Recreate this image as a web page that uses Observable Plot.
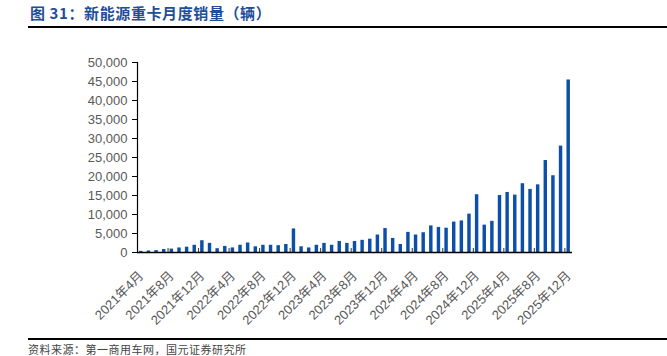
<!DOCTYPE html>
<html><head><meta charset="utf-8">
<script src="https://cdn.jsdelivr.net/npm/d3@7"></script>
<script src="https://cdn.jsdelivr.net/npm/@observablehq/plot@0.6"></script>
<style>
html,body{margin:0;padding:0;background:#fff;width:667px;height:356px;overflow:hidden;}
body{position:relative;font-family:"Liberation Sans","Noto Sans CJK SC",sans-serif;}
#title{position:absolute;left:30px;top:3px;font-size:15px;font-weight:bold;color:#1f4e99;letter-spacing:0.6px;font-family:"Noto Sans CJK SC",sans-serif;white-space:nowrap;line-height:20px;}
#tline{position:absolute;left:28px;top:26px;width:639px;height:2px;background:#000;}
#bline{position:absolute;left:28px;top:338px;width:639px;height:2px;background:#000;}
#source{position:absolute;left:28px;top:344px;font-size:11px;color:#444;letter-spacing:0.5px;font-family:"Noto Sans CJK SC",sans-serif;white-space:nowrap;line-height:11px;}
#chart{position:absolute;left:0;top:0;}
</style>
</head><body>
<div id="chart"></div>
<div id="title">图 31：新能源重卡月度销量（辆）</div>
<div id="tline"></div>
<div id="bline"></div>
<div id="source">资料来源：第一商用车网，国元证券研究所</div>
<script>
const months = [
  "2021年4月","2021年5月","2021年6月","2021年7月","2021年8月","2021年9月","2021年10月","2021年11月","2021年12月",
  "2022年1月","2022年2月","2022年3月","2022年4月","2022年5月","2022年6月","2022年7月","2022年8月","2022年9月","2022年10月","2022年11月","2022年12月",
  "2023年1月","2023年2月","2023年3月","2023年4月","2023年5月","2023年6月","2023年7月","2023年8月","2023年9月","2023年10月","2023年11月","2023年12月",
  "2024年1月","2024年2月","2024年3月","2024年4月","2024年5月","2024年6月","2024年7月","2024年8月","2024年9月","2024年10月","2024年11月","2024年12月",
  "2025年1月","2025年2月","2025年3月","2025年4月","2025年5月","2025年6月","2025年7月","2025年8月","2025年9月","2025年10月","2025年11月","2025年12月"
];
const sales = [
  300,400,500,800,900,1200,1400,1900,3100,
  2400,1000,1600,1200,1900,2500,1500,1900,1900,1800,2100,6200,
  1500,1200,1900,2400,1900,2900,2400,2900,3200,3500,4600,6300,
  3700,2100,5300,4600,5200,7000,6600,6400,8000,8300,10100,15200,
  7200,8200,15000,15800,15100,18100,16600,17800,24200,20200,28000,45400
];
const xTickLabels = ["2021年4月","2021年8月","2021年12月","2022年4月","2022年8月","2022年12月","2023年4月","2023年8月","2023年12月","2024年4月","2024年8月","2024年12月","2025年4月","2025年8月","2025年12月"];
const yTicks = [0,5000,10000,15000,20000,25000,30000,35000,40000,45000,50000];

const data = months.map((m, i) => ({month: m, sales: sales[i]}));
const fontFam = '"Liberation Sans","Noto Sans CJK SC",sans-serif';

const chart = Plot.plot({
  width: 667, height: 356,
  marginTop: 62, marginBottom: 104, marginLeft: 137, marginRight: 95,
  style: {fontFamily: fontFam, fontSize: "13px", background: "transparent", overflow: "visible"},
  x: {type: "band", domain: months, paddingInner: 0.55, paddingOuter: 0.275, label: null},
  y: {domain: [0, 50000], label: null},
  marks: [
    Plot.barY(data, {x: "month", y: "sales", fill: "#0b4fa6"}),
    Plot.axisX({ticks: xTickLabels, tickSize: -4, tickFormat: () => "", dx: -3.8, stroke: "#333", label: null}),
    Plot.ruleY([0], {stroke: "#000", strokeWidth: 1.5}),
    Plot.frame({anchor: "left", stroke: "#000", strokeWidth: 1.2}),
    Plot.axisY({ticks: yTicks, tickFormat: d3.format(","), tickSize: 5, tickPadding: 5, fontSize: 13, stroke: "#000", fill: "#595959", label: null}),
    Plot.axisX({ticks: xTickLabels, tickRotate: -45, tickSize: 0, tickPadding: 21, fontSize: 13, fill: "#595959", label: null})
  ]
});
document.getElementById("chart").appendChild(chart);
</script>
</body></html>
